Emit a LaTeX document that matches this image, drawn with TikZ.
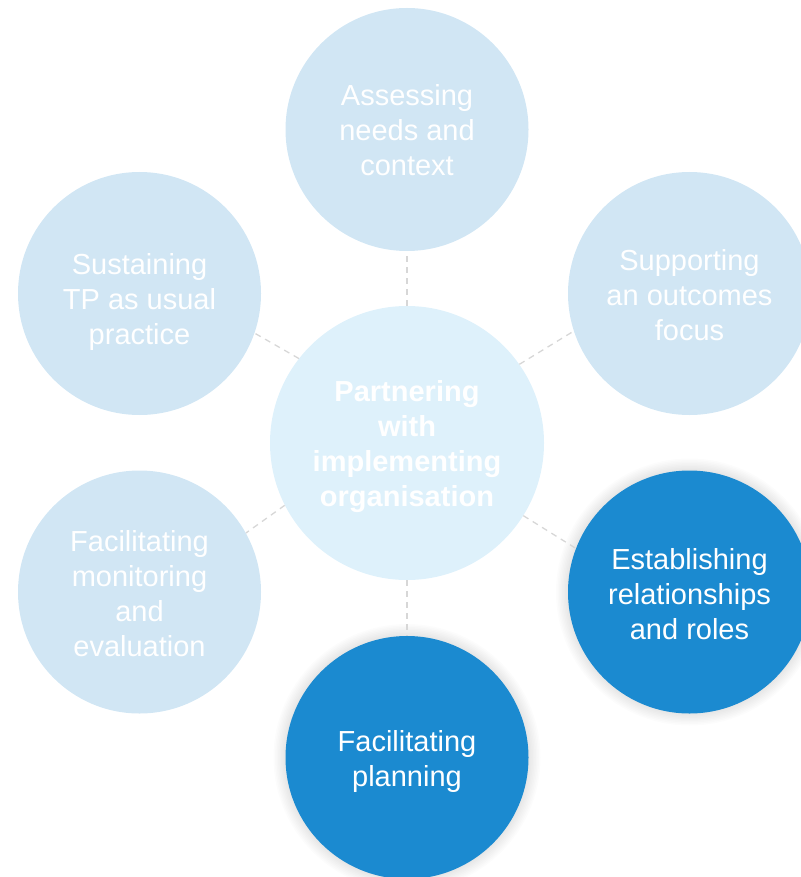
\documentclass[tikz,border=0pt]{standalone}
\usepackage{fontspec}
\setmainfont{Liberation Sans}
\definecolor{paleblue}{RGB}{209,230,244}
\definecolor{hubblue}{RGB}{222,241,251}
\definecolor{deepblue}{RGB}{27,138,208}
\definecolor{dashgrey}{RGB}{215,215,215}
\begin{document}
\begin{tikzpicture}[x=1pt,y=-1pt,
  bubble/.style={circle,inner sep=0pt,minimum size=243pt},
  pale/.style={bubble,fill=paleblue},
  deep/.style={bubble,fill=deepblue},
  hub/.style={bubble,fill=hubblue,minimum size=274pt},
  caption/.style={align=center,text=white,inner sep=0pt,
    font=\fontsize{29}{35}\selectfont},
  hubcaption/.style={caption,font=\fontsize{29}{35}\selectfont\bfseries},
  link/.style={draw=dashgrey,line width=1.3pt,dash pattern=on 6pt off 5pt}]
\useasboundingbox (0,0) rectangle (800,877);

% soft glow behind the highlighted steps
\foreach \cx/\cy in {689.5/592,407/757.5}{
  \foreach \rr in {1.5,3,...,12}{
    \fill[black,opacity=0.012] (\cx,\cy) circle[radius=121.5+\rr];
  }
}

\node[hub]  (hub) at (407,443) {};
\node[pale] (assess) at (407,129.5) {};
\node[pale] (outcomes) at (689.5,293.5) {};
\node[deep] (roles) at (689.5,592) {};
\node[deep] (plan) at (407,757.5) {};
\node[pale] (monitor) at (139.5,592) {};
\node[pale] (sustain) at (139.5,293.5) {};

\node[hubcaption] (hub-t) at ([yshift=-4pt]hub.center)
  {Partnering\\with\\implementing\\organisation};
\node[caption] (assess-t) at ([yshift=-1pt]assess.center)
  {Assessing\\needs and\\context};
\node[caption] (outcomes-t) at ([yshift=-1.5pt]outcomes.center)
  {Supporting\\an outcomes\\focus};
\node[caption] (roles-t) at ([yshift=-2pt]roles.center)
  {Establishing\\relationships\\and roles};
\node[caption] (plan-t) at ([yshift=-4pt]plan.center)
  {Facilitating\\planning};
\node[caption] (monitor-t) at ([yshift=-2pt]monitor.center)
  {Facilitating\\monitoring\\and\\evaluation};
\node[caption] (sustain-t) at ([yshift=-9pt]sustain.center)
  {Sustaining\\TP as usual\\practice};

% dashed spokes between the hub and each step
\draw[link] (hub.90) -- (assess.270);
\draw[link] (hub.35) -- (outcomes.198.7);
\draw[link] (hub.-32.2) -- (roles.159);
\draw[link] (hub.270) -- (plan.90);
\draw[link] (hub.207.6) -- (monitor.29.7);
\draw[link] (hub.142.8) -- (sustain.-19);
\end{tikzpicture}
\end{document}
